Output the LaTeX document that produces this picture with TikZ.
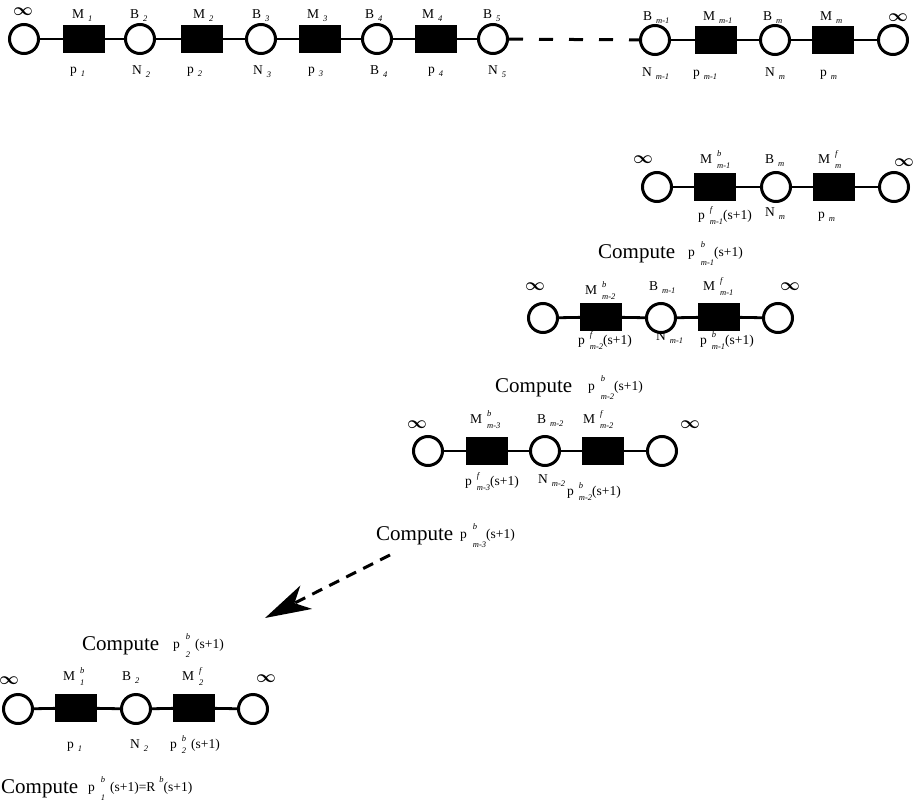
\documentclass[tikz,border=0pt]{standalone}
\usepackage{fontspec}
\setmainfont{Liberation Serif}
\usetikzlibrary{arrows.meta}

% type sizes
\newcommand{\lsz}{\fontsize{13.5}{14}\selectfont}
\newcommand{\ssz}{\fontsize{8.5}{8.5}\selectfont\itshape}
\newcommand{\csz}{\fontsize{21}{22}\selectfont}
% letter with a lowered index
\newcommand{\lblsub}[2]{#1\kern4pt\raisebox{-3pt}{\ssz #2}}
% letter with an upper and a lower index, stacked
\newcommand{\lblss}[3]{#1\kern5pt\ooalign{\raisebox{7pt}{\ssz #2}\cr\raisebox{-5pt}{\ssz #3}}}
% same, spread wider, for the Compute lines
\newcommand{\cmpss}[3]{#1\kern6pt\ooalign{\raisebox{9pt}{\ssz #2}\cr\raisebox{-9pt}{\ssz #3}}}

\tikzset{
  buf/.style={circle, draw, line width=3pt, minimum size=29pt, inner sep=0pt, fill=white},
  mach/.style={rectangle, fill=black, minimum width=42pt, minimum height=28pt, inner sep=0pt},
  link/.style={line width=2.8pt},
  dashlink/.style={line width=3pt, dash pattern=on 14pt off 16pt},
  flow/.style={line width=3pt, dash pattern=on 11pt off 8pt,
    -{Stealth[length=46pt,width=26pt,inset=13pt]}},
  tx/.style={inner sep=0pt, anchor=base west, font=\lsz},
  cmp/.style={inner sep=0pt, anchor=base west, font=\csz},
  inf/.style={inner sep=0pt, font=\fontsize{16}{16}\selectfont\boldmath},
}

\begin{document}
\begin{tikzpicture}[x=1pt, y=-1pt]
\useasboundingbox (0,0) rectangle (914,806);
\clip (0,0) rectangle (914,806);

% ---------- full line: M1 ... Mm ----------
\node[buf]  (a0)  at (24,39)  {};
\node[mach] (a1)  at (84,39)  {};
\node[buf]  (a2)  at (140,39) {};
\node[mach] (a3)  at (202,39) {};
\node[buf]  (a4)  at (261,39) {};
\node[mach] (a5)  at (320,39) {};
\node[buf]  (a6)  at (377,39) {};
\node[mach] (a7)  at (436,39) {};
\node[buf]  (a8)  at (493,39) {};
\node[buf]  (a9)  at (655,40) {};
\node[mach] (a10) at (716,40) {};
\node[buf]  (a11) at (775,40) {};
\node[mach] (a12) at (833,40) {};
\node[buf]  (a13) at (893,40) {};
\draw[link] (a0) -- (a1) -- (a2) -- (a3) -- (a4) -- (a5) -- (a6) -- (a7) -- (a8);
\draw[dashlink] (a8) -- (a9);
\draw[link] (a9) -- (a10) -- (a11) -- (a12) -- (a13);

\node[inf] (ai0) at (23,12) {$\infty$};
\node[inf] (ai1) at (898,18) {$\infty$};
\node[tx] (at1) at (72,18)  {\lblsub{M}{1}};
\node[tx] (at2) at (130,18) {\lblsub{B}{2}};
\node[tx] (at3) at (193,18) {\lblsub{M}{2}};
\node[tx] (at4) at (252,18) {\lblsub{B}{3}};
\node[tx] (at5) at (307,18) {\lblsub{M}{3}};
\node[tx] (at6) at (365,18) {\lblsub{B}{4}};
\node[tx] (at7) at (422,18) {\lblsub{M}{4}};
\node[tx] (at8) at (483,18) {\lblsub{B}{5}};
\node[tx] (at9) at (643,20) {\lblsub{B}{m-1}};
\node[tx] (at10) at (703,20) {\lblsub{M}{m-1}};
\node[tx] (at11) at (763,20) {\lblsub{B}{m}};
\node[tx] (at12) at (820,20) {\lblsub{M}{m}};

\node[tx] (ab1) at (70,73)  {\lblsub{p}{1}};
\node[tx] (ab2) at (132,74) {\lblsub{N}{2}};
\node[tx] (ab3) at (187,73) {\lblsub{p}{2}};
\node[tx] (ab4) at (253,74) {\lblsub{N}{3}};
\node[tx] (ab5) at (308,73) {\lblsub{p}{3}};
\node[tx] (ab6) at (370,74) {\lblsub{B}{4}};
\node[tx] (ab7) at (428,73) {\lblsub{p}{4}};
\node[tx] (ab8) at (488,74) {\lblsub{N}{5}};
\node[tx] (ab9) at (642,76) {\lblsub{N}{m-1}};
\node[tx] (ab10) at (693,76) {\lblsub{p}{m-1}};
\node[tx] (ab11) at (765,76) {\lblsub{N}{m}};
\node[tx] (ab12) at (820,76) {\lblsub{p}{m}};

% ---------- two-machine line m-1 ----------
\node[buf]  (b0) at (657,187) {};
\node[mach] (b1) at (715,187) {};
\node[buf]  (b2) at (776,187) {};
\node[mach] (b3) at (834,187) {};
\node[buf]  (b4) at (894,187) {};
\draw[link] (b0) -- (b1) -- (b2) -- (b3) -- (b4);
\node[inf] (bi0) at (643,160) {$\infty$};
\node[inf] (bi1) at (904,163) {$\infty$};
\node[tx] (bt1) at (700,163) {\lblss{M}{b}{m-1}};
\node[tx] (bt2) at (765,163) {\lblsub{B}{m}};
\node[tx] (bt3) at (818,163) {\lblss{M}{f}{m}};
\node[tx] (bb1) at (698,219) {\lblss{p}{f}{m-1}(s+1)};
\node[tx] (bb2) at (765,216) {\lblsub{N}{m}};
\node[tx] (bb3) at (818,218) {\lblsub{p}{m}};
\node[cmp] (bc0) at (598,258) {Compute};
\node[tx]  (bc1) at (688,256) {\cmpss{p}{b}{m-1}(s+1)};

% ---------- two-machine line m-2 ----------
\node[buf]  (c0) at (543,318) {};
\node[mach] (c1) at (601,317) {};
\node[buf]  (c2) at (661,318) {};
\node[mach] (c3) at (719,317) {};
\node[buf]  (c4) at (778,318) {};
\draw[link] (c0) -- (c1) -- (c2) -- (c3) -- (c4);
\node[inf] (ci0) at (535,287) {$\infty$};
\node[inf] (ci1) at (790,287) {$\infty$};
\node[tx] (ct1) at (585,294) {\lblss{M}{b}{m-2}};
\node[tx] (ct2) at (649,290) {\lblsub{B}{m-1}};
\node[tx] (ct3) at (703,290) {\lblss{M}{f}{m-1}};
\node[tx] (cb1) at (578,344) {\lblss{p}{f}{m-2}(s+1)};
\node[tx] (cb2) at (656,340) {\lblsub{N}{m-1}};
\node[tx] (cb3) at (700,344) {\lblss{p}{b}{m-1}(s+1)};
\node[cmp] (cc0) at (495,392) {Compute};
\node[tx]  (cc1) at (588,390) {\cmpss{p}{b}{m-2}(s+1)};

% ---------- two-machine line m-3 ----------
\node[buf]  (d0) at (428,451) {};
\node[mach] (d1) at (487,451) {};
\node[buf]  (d2) at (545,451) {};
\node[mach] (d3) at (603,451) {};
\node[buf]  (d4) at (662,451) {};
\draw[link] (d0) -- (d1) -- (d2) -- (d3) -- (d4);
\node[inf] (di0) at (417,425) {$\infty$};
\node[inf] (di1) at (690,425) {$\infty$};
\node[tx] (dt1) at (470,423) {\lblss{M}{b}{m-3}};
\node[tx] (dt2) at (537,423) {\lblsub{B}{m-2}};
\node[tx] (dt3) at (583,423) {\lblss{M}{f}{m-2}};
\node[tx] (db1) at (465,485) {\lblss{p}{f}{m-3}(s+1)};
\node[tx] (db2) at (538,483) {\lblsub{N}{m-2}};
\node[tx] (db3) at (567,495) {\lblss{p}{b}{m-2}(s+1)};
\node[cmp] (dc0) at (376,540) {Compute};
\node[tx]  (dc1) at (460,538) {\cmpss{p}{b}{m-3}(s+1)};

% ---------- jump down to the first line ----------
\coordinate (fs) at (390,555);
\coordinate (fe) at (265,618);
\draw[flow] (fs) -- (fe);

% ---------- two-machine line 1 ----------
\node[cmp] (ec0) at (82,650) {Compute};
\node[tx]  (ec1) at (173,648) {\cmpss{p}{b}{2}\kern5pt(s+1)};
\node[buf]  (e0) at (18,709)  {};
\node[mach] (e1) at (76,708)  {};
\node[buf]  (e2) at (136,709) {};
\node[mach] (e3) at (194,708) {};
\node[buf]  (e4) at (253,709) {};
\draw[link] (e0) -- (e1) -- (e2) -- (e3) -- (e4);
\node[inf] (ei0) at (9,681) {$\infty$};
\node[inf] (ei1) at (266,679) {$\infty$};
\node[tx] (et1) at (63,680)  {\lblss{M}{b}{1}};
\node[tx] (et2) at (122,680) {\lblsub{B}{2}};
\node[tx] (et3) at (182,680) {\lblss{M}{f}{2}};
\node[tx] (eb1) at (67,748)  {\lblsub{p}{1}};
\node[tx] (eb2) at (130,748) {\lblsub{N}{2}};
\node[tx] (eb3) at (170,748) {\lblss{p}{b}{2}\kern5pt(s+1)};
\node[cmp] (ed0) at (1,793) {Compute};
\node[tx]  (ed1) at (88,791) {\cmpss{p}{b}{1}\kern5pt(s+1)=R\kern4pt\raisebox{9pt}{\ssz b}(s+1)};
\end{tikzpicture}
\end{document}
